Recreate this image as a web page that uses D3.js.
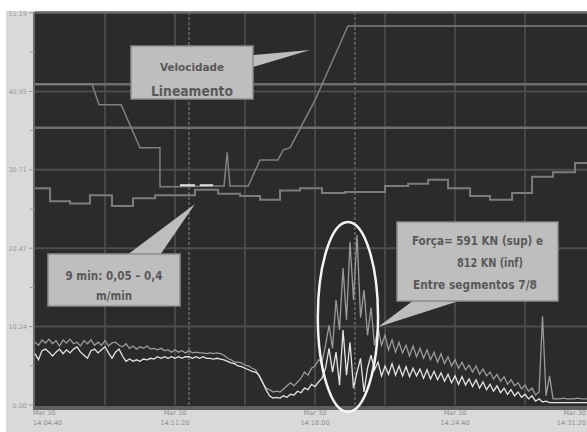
<!DOCTYPE html>
<html><head><meta charset="utf-8">
<script src="https://cdn.jsdelivr.net/npm/d3@7"></script>
<style>
html,body{margin:0;padding:0;background:#fff;}
svg{display:block;}
</style></head>
<body>
<svg id="c" width="587" height="432"></svg>
<script>
// ---------- DATA ----------
const startTime = new Date(2000, 2, 30, 14, 4, 40);
const spanSeconds = 1577;
const yTickValues = [0, 10.24, 20.47, 30.71, 40.95, 51.19];
const yTickLabels = ["0.00", "10.24", "20.47", "30.71", "40.95", "51.19"];
const xLabelSeconds = [0, 400, 800, 1200, 1600];
const gridSeconds = [200, 400, 600, 800, 1000, 1200, 1400];
const markerSeconds = [440, 914];
const refLevels = [41.9, 36.2];

// line speed
const velT = [0, 163, 183, 246, 300, 357, 357, 400, 514, 540, 549, 557, 609, 643, 694, 709, 729, 800, 894, 1577];
const velV = [41.9, 41.9, 39.2, 39.2, 33.6, 33.6, 28.5, 28.5, 28.6, 28.6, 33.0, 28.6, 28.6, 32.0, 32.0, 33.3, 33.6, 39.8, 49.5, 49.5];
const setT = [414, 457, 471, 509];
const setV = [28.7, 28.7, 28.7, 28.7];

// stepped series
const stepT = [0, 43, 100, 157, 220, 280, 343, 457, 523, 586, 643, 700, 757, 820, 886, 1000, 1066, 1123, 1180, 1243, 1300, 1363, 1420, 1480, 1543, 1577];
const stepV = [28.3, 26.6, 26.3, 27.4, 26.0, 27.0, 27.4, 28.1, 27.6, 27.3, 26.8, 28.0, 28.3, 27.7, 27.8, 28.6, 28.9, 29.4, 28.3, 27.3, 26.8, 27.7, 29.8, 30.4, 31.6, 31.6];

// forces, sampled every 10 s
const sampleSeconds = 10;
const forceSup = [
 8.2,7.8,8.5,8.1,8.6,8.0,8.4,7.7,8.5,8.1,8.6,8.0,8.2,7.7,8.4,8.0,8.5,7.8,8.2,7.8,8.4,7.7,8.1,8.2,7.8,
 7.6,8.0,7.4,7.7,7.3,7.6,7.4,7.7,7.3,7.4,7.2,7.4,7.1,7.2,6.9,7.2,6.9,7.1,6.8,7.1,6.8,6.9,6.8,6.8,6.7,
 6.8,6.7,6.8,6.7,6.5,6.1,5.9,5.6,5.6,5.5,5.2,5.1,4.8,4.6,3.8,2.9,2.2,2.0,1.7,1.8,1.7,2.1,2.5,2.9,2.5,
 3.0,3.5,4.3,3.9,4.8,5.1,5.9,5.6,7.8,10.4,7.4,13.7,9.8,17.9,11.1,21.3,13.7,22.2,11.4,15.0,9.1,12.7,7.8,10.1,7.8,
 9.1,7.2,8.5,6.9,8.2,6.8,7.8,6.4,7.7,6.3,7.4,6.1,7.2,5.9,6.9,5.6,6.7,5.4,6.3,5.1,5.9,4.8,5.6,4.6,5.2,
 4.3,5.1,4.0,4.7,3.8,4.3,3.4,4.0,3.1,3.7,2.7,3.3,2.5,2.9,2.1,2.6,1.8,2.2,1.3,1.7,11.6,1.2,3.8,0.8,0.8,
 0.8,0.9,0.8,0.8,0.8,0.9,0.8,0.8,0.8
];
const forceInf = [
 6.7,5.9,7.1,7.3,6.9,6.4,6.9,7.3,6.7,7.2,6.8,7.3,7.6,6.9,6.5,6.1,7.1,7.3,6.8,7.2,7.6,6.8,6.1,6.9,7.3,
 6.4,5.7,6.0,5.7,5.9,5.7,6.0,5.9,6.1,6.0,6.3,6.1,
 6.3,6.1,6.3,6.1,6.3,6.1,6.3,6.3,6.1,6.3,6.1,6.3,6.1,6.1,6.0,6.1,6.0,
 5.9,5.7,5.5,5.4,5.1,5.0,4.8,4.6,4.4,4.3,3.9,3.0,2.0,1.2,0.9,1.0,0.9,1.2,1.0,1.4,1.3,1.8,1.6,2.2,2.0,2.7,2.4,3.0,
 3.5,4.8,7.4,4.3,6.9,2.6,9.8,3.9,8.2,2.2,4.3,6.1,1.7,4.8,6.5,4.6,5.6,
 3.8,5.1,4.0,5.4,3.9,5.1,3.8,5.0,3.7,4.8,3.8,4.7,3.5,4.6,3.4,4.4,3.3,4.2,3.1,4.0,2.9,3.8,2.7,3.7,2.6,
 3.4,2.4,3.3,2.2,3.0,2.0,2.7,1.8,2.5,1.6,2.2,1.4,2.0,1.2,1.7,1.0,1.4,0.8,1.2,0.5,0.8,0.4,0.5,
 0.3,0.3,0.3,0.3,0.3,0.3,0.3,0.3,0.3,0.3,0.3,0.3
];

// annotations
const ellipseCenter = {t: 894, v: 11.5, rt: 86, rv: 12.4};
const callouts = [
  {lines: ["Velocidade", "Lineamento"], sizes: [11, 14], widths: [64, 82], box: [131, 46, 122, 53], baselines: [71, 96],
   pointer: [[253, 55], [310, 50], [253, 67]]},
  {lines: ["9 min: 0,05 \u2013 0,4", "m/min"], sizes: [13, 12], widths: [97, 36], box: [48, 254, 132, 52], baselines: [280, 300],
   pointer: [[127, 255], [195, 204], [160, 255]]},
  {lines: ["For\u00e7a= 591 KN (sup) e", "812 KN (inf)", "Entre segmentos  7/8"], sizes: [13, 13, 13], widths: [131, 66, 124],
   box: [397, 222, 161, 79], baselines: [245, 267, 289], xs: [412, 457, 413],
   pointer: [[414, 300], [378, 327], [462, 300]]}
];

// ---------- DRAW ----------
const svg = d3.select("#c");
const L = 35, R = 587, T = 13, B = 405;
const t0 = +startTime;
const sec = s => new Date(t0 + s * 1000);
const x = d3.scaleTime().domain([startTime, sec(spanSeconds)]).range([L, R]);
const y = d3.scaleLinear().domain([0, 51.19]).range([B, T]);

svg.append("rect").attr("x", 6).attr("y", 11).attr("width", 581).attr("height", 421).attr("fill", "#d9d9d9");
svg.append("rect").attr("x", L).attr("y", 12).attr("width", R - L).attr("height", 396).attr("fill", "#2b2b2b");

// vertical grid
svg.append("g").selectAll("line").data(gridSeconds).join("line")
  .attr("x1", d => x(sec(d))).attr("x2", d => x(sec(d))).attr("y1", 12).attr("y2", B)
  .attr("stroke", "#484848").attr("stroke-width", 2);
svg.append("g").selectAll("line").data(markerSeconds).join("line")
  .attr("x1", d => x(sec(d))).attr("x2", d => x(sec(d))).attr("y1", 12).attr("y2", B)
  .attr("stroke", "#5a5a5a").attr("stroke-width", 2).attr("stroke-dasharray", "3,2");

// horizontal grid
svg.append("g").selectAll("line").data(yTickValues.slice(1, -1)).join("line")
  .attr("x1", L).attr("x2", R).attr("y1", d => y(d)).attr("y2", d => y(d))
  .attr("stroke", "#4c4c4c").attr("stroke-width", 2);
svg.append("g").selectAll("line").data(refLevels).join("line")
  .attr("x1", L).attr("x2", R).attr("y1", d => y(d)).attr("y2", d => y(d))
  .attr("stroke", "#6f6f6f").attr("stroke-width", 2.5);

// frame
svg.append("line").attr("x1", L).attr("x2", R).attr("y1", 12.5).attr("y2", 12.5).attr("stroke", "#6a6a6a").attr("stroke-width", 2.5);
svg.append("rect").attr("x", L).attr("y", B + 1).attr("width", R - L).attr("height", 4).attr("fill", "#5e5e5e");
svg.append("line").attr("x1", L - 1).attr("x2", L - 1).attr("y1", 12).attr("y2", B + 5).attr("stroke", "#6a6a6a").attr("stroke-width", 2);

// y axis ticks and labels
const minor = d3.pairs(yTickValues).map(p => (p[0] + p[1]) / 2);
svg.append("g").selectAll("line").data(yTickValues).join("line")
  .attr("x1", 29).attr("x2", 34).attr("y1", d => y(d)).attr("y2", d => y(d)).attr("stroke", "#9a9a9a");
svg.append("g").selectAll("line").data(minor).join("line")
  .attr("x1", 30).attr("x2", 34).attr("y1", d => y(d)).attr("y2", d => y(d)).attr("stroke", "#9a9a9a");
svg.append("g").selectAll("text").data(yTickValues).join("text")
  .attr("x", 27).attr("y", d => y(d) + 2.5).attr("text-anchor", "end")
  .attr("font-family", "DejaVu Sans, sans-serif").attr("font-size", 6.5).attr("fill", "#9c9c9c")
  .text((d, i) => yTickLabels[i]);

// x labels
const fmtD = d3.timeFormat("%b %d"), fmtT = d3.timeFormat("%H:%M:%S");
const last = xLabelSeconds.length - 1;
const lx = (d, i) => i === 0 ? x(sec(d)) - 2 : (i === last ? R - 1 : x(sec(d)));
const xl = svg.append("g").selectAll("text").data(xLabelSeconds).join("text")
  .attr("font-family", "DejaVu Sans, sans-serif").attr("font-size", 6.5).attr("fill", "#8e8e8e")
  .attr("text-anchor", (d, i) => i === 0 ? "start" : (i === last ? "end" : "middle"))
  .attr("x", lx);
xl.append("tspan").attr("y", 415).attr("x", lx).text(d => fmtD(sec(d)));
xl.append("tspan").attr("y", 425).attr("x", lx).text(d => fmtT(sec(d)));

const plot = svg.append("g");
const line = d3.line().x(d => x(sec(d[0]))).y(d => y(d[1]));

plot.append("path").datum(d3.zip(stepT, stepV))
  .attr("d", line.curve(d3.curveStepAfter)).attr("fill", "none").attr("stroke", "#7c7c7c").attr("stroke-width", 2);
line.curve(d3.curveLinear);
plot.append("path").datum(d3.zip(velT, velV))
  .attr("d", line).attr("fill", "none").attr("stroke", "#808080").attr("stroke-width", 1.5);
plot.append("g").selectAll("path").data([[0, 1], [2, 3]]).join("path")
  .attr("d", p => line([[setT[p[0]], setV[p[0]]], [setT[p[1]], setV[p[1]]]]))
  .attr("stroke", "#e0e0e0").attr("stroke-width", 2);

plot.append("path").datum(forceSup.map((v, i) => [i * sampleSeconds, v]))
  .attr("d", line).attr("fill", "none").attr("stroke", "#9a9a9a").attr("stroke-width", 1.3);
plot.append("path").datum(forceInf.map((v, i) => [i * sampleSeconds, v]))
  .attr("d", line).attr("fill", "none").attr("stroke", "#e4e4e4").attr("stroke-width", 1.3);

// ellipse
svg.append("ellipse")
  .attr("cx", x(sec(ellipseCenter.t))).attr("cy", y(ellipseCenter.v))
  .attr("rx", x(sec(ellipseCenter.t + ellipseCenter.rt)) - x(sec(ellipseCenter.t)))
  .attr("ry", y(ellipseCenter.v - ellipseCenter.rv) - y(ellipseCenter.v))
  .attr("fill", "none").attr("stroke", "#f4f4f4").attr("stroke-width", 2.5);

// callouts
callouts.forEach(c => {
  const g = svg.append("g");
  g.append("polygon").attr("points", c.pointer.map(p => p.join(",")).join(" ")).attr("fill", "#bdbdbd");
  g.append("rect").attr("x", c.box[0]).attr("y", c.box[1]).attr("width", c.box[2]).attr("height", c.box[3])
    .attr("fill", "#bebebe").attr("stroke", "#8c8c8c").attr("stroke-width", 1.5);
  c.lines.forEach((t, i) => {
    const cx = c.box[0] + c.box[2] / 2;
    g.append("text")
      .attr("x", c.xs ? c.xs[i] : cx - c.widths[i] / 2).attr("y", c.baselines[i])
      .attr("font-family", "Liberation Sans Narrow, DejaVu Sans Condensed, sans-serif")
      .attr("font-weight", "bold").attr("font-size", c.sizes[i]).attr("fill", "#595959")
      .attr("textLength", c.widths[i]).attr("lengthAdjust", "spacingAndGlyphs").text(t);
  });
});
</script>
</body></html>
